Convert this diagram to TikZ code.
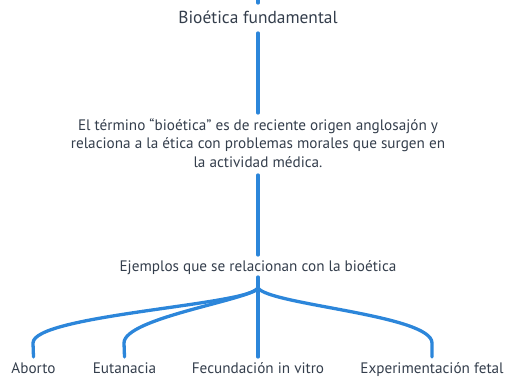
\documentclass[tikz,border=0pt]{standalone}
\usepackage{fontspec}
\setmainfont{PT Sans}
\definecolor{linkblue}{RGB}{44,134,218}
\definecolor{txt}{RGB}{52,62,76}
\tikzset{
  lbl/.style={text=txt, inner sep=0pt, font=\fontsize{15.2}{18.5}\selectfont},
  ttl/.style={text=txt, inner sep=0pt, font=\fontsize{17.4}{20}\selectfont},
  conn/.style={draw=linkblue, line width=3.3pt, line cap=round}
}
\begin{document}
\begin{tikzpicture}[x=1pt,y=-1pt]
\useasboundingbox (0,0) rectangle (518,385);
\node[ttl, anchor=base] (title) at (258,24) {Bioética fundamental};
\node[lbl, align=center, anchor=north] (para) at (258,118)
  {El término “bioética” es de reciente origen anglosajón y\\
   relaciona a la ética con problemas morales que surgen en\\
   la actividad médica.};
\node[lbl, anchor=base] (ej) at (258,271.5) {Ejemplos que se relacionan con la bioética};
\node[lbl, anchor=base] (ab) at (33.5,373) {Aborto};
\node[lbl, anchor=base] (eu) at (124.5,373) {Eutanacia};
\node[lbl, anchor=base] (fe) at (258,373) {Fecundación in vitro};
\node[lbl, anchor=base] (ex) at (432,373) {Experimentación fetal};
\coordinate (top) at (258,-3);
\coordinate (j) at (258,288);
\draw[conn] (top) -- (top |- 0,3);
\draw[conn] (title.south |- 0,33) -- (para.north |- 0,113);
\draw[conn] (para.south |- 0,175) -- (ej.north |- 0,255);
\draw[conn] (ej.south |- 0,277) -- (j);
\draw[conn] (j) -- (fe.north |- 0,357);
\draw[conn] (j) .. controls (250,305) and (33,315) .. (33,343) -- (ab.north |- 0,357);
\draw[conn] (j) .. controls (250,300) and (124,318) .. (124,343) -- (eu.north |- 0,357);
\draw[conn] (j) .. controls (270,305) and (432,315) .. (432,343) -- (ex.north |- 0,357);
\end{tikzpicture}
\end{document}
